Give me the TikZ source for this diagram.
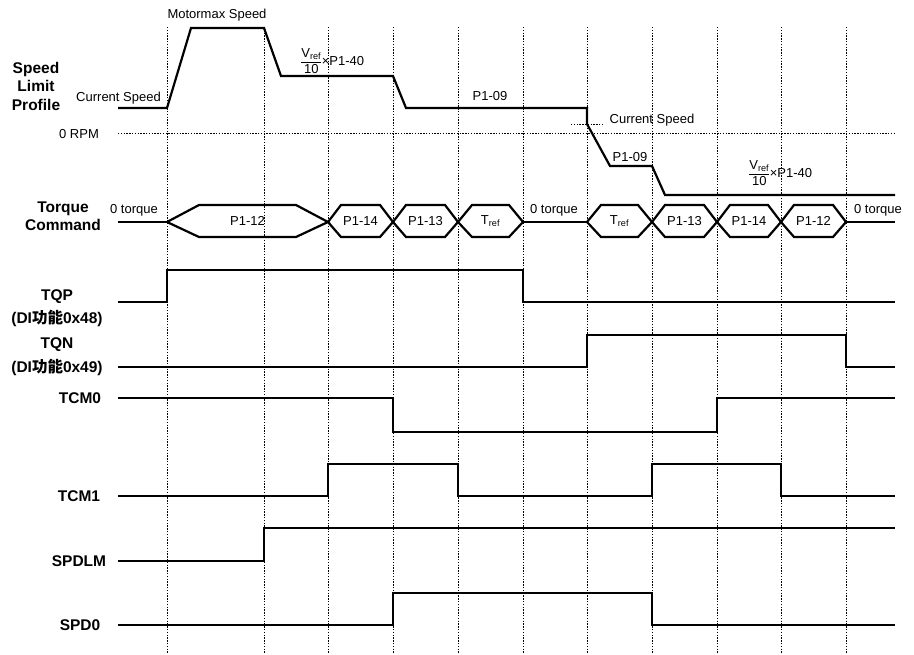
\documentclass[tikz,border=0pt]{standalone}
\usepackage{fontspec}
\setmainfont{Liberation Sans}
\newfontfamily\cjk{Noto Sans CJK SC}
\begin{document}
\begin{tikzpicture}[x=1pt,y=-1pt,
  sig/.style={line width=2.2pt},
  gridline/.style={line width=0.9pt, dash pattern=on 1.4pt off 1.4pt},
  lbl/.style={font=\fontsize{13}{15}\selectfont, inner sep=0pt},
  blbl/.style={font=\fontsize{15.5}{18.5}\selectfont\bfseries, inner sep=0pt, align=center}]
\useasboundingbox (0,0) rectangle (914,655);
\fill[white] (0,0) rectangle (914,655);
% vertical dotted time markers
\foreach \x in {167,264,328,393,458,523,587,652,717,781,846}
  \draw[gridline] (\x,27) -- (\x,653);
% speed limit profile
\draw[gridline] (118,133) -- (895,133);
\draw[gridline] (571,124) -- (602,124);
\draw[sig] (118,108) -- (167,108) -- (191,28) -- (264,28) -- (281,76) -- (393,76)
  -- (406,108) -- (587,108) -- (587,124) -- (610,166) -- (652,166) -- (665,195) -- (895,195);
\node[blbl] (slp) at (36,86) {Speed\\Limit\\Profile};
\node[lbl, anchor=east] (cs1) at (161,98) {Current Speed};
\node[lbl] (mms) at (217,15) {Motormax Speed};
\node[lbl] (rpm) at (79,134) {0 RPM};
\node[lbl, anchor=west] (f1) at (300,61) {$\displaystyle\frac{\mbox{V\textsubscript{ref}}}{\mbox{10}}$\kern-0.5pt×P1-40};
\node[lbl] (p109a) at (490,96) {P1-09};
\node[lbl] (cs2) at (652,120) {Current Speed};
\node[lbl] (p109b) at (630,157) {P1-09};
\node[lbl, anchor=west] (f2) at (748,173) {$\displaystyle\frac{\mbox{V\textsubscript{ref}}}{\mbox{10}}$\kern-0.5pt×P1-40};
% torque command
\node[blbl] (tc) at (63,216) {Torque\\Command};
\draw[sig] (118,222) -- (167,222);
\draw[sig] (523,222) -- (587,222);
\draw[sig] (846,222) -- (895,222);
\node[lbl] (zt1) at (134,210) {0 torque};
\node[lbl] (zt2) at (554,210) {0 torque};
\node[lbl] (zt3) at (878,210) {0 torque};
\foreach \a/\b/\s/\t [count=\i] in {167/328/32/P1-12, 328/393/13/P1-14, 393/458/13/P1-13,
   458/523/14/T\textsubscript{ref}, 587/652/14/T\textsubscript{ref}, 652/717/13/P1-13,
   717/781/13/P1-14, 781/846/13/P1-12} {
  \draw[sig] (\a,222) -- ({\a+\s},205) -- ({\b-\s},205) -- (\b,222) -- ({\b-\s},237) -- ({\a+\s},237) -- cycle;
  \node[lbl] (hex\i) at ({(\a+\b)/2},221) {\t};
}
% digital signals
\node[blbl] (tqp) at (57,297) {TQP};
\node[blbl] (tqpdi) at (57,318) {(DI{\cjk 功能}0x48)};
\draw[sig] (118,302) -- (167,302) -- (167,270) -- (523,270) -- (523,302) -- (895,302);
\node[blbl] (tqn) at (57,345) {TQN};
\node[blbl] (tqndi) at (57,367) {(DI{\cjk 功能}0x49)};
\draw[sig] (118,367) -- (587,367) -- (587,335) -- (846,335) -- (846,367) -- (895,367);
\node[blbl] (tcm0) at (80,398) {TCM0};
\draw[sig] (118,398) -- (393,398) -- (393,432) -- (717,432) -- (717,398) -- (895,398);
\node[blbl] (tcm1) at (79,496) {TCM1};
\draw[sig] (118,496) -- (328,496) -- (328,464) -- (458,464) -- (458,496) -- (652,496)
  -- (652,464) -- (781,464) -- (781,496) -- (895,496);
\node[blbl] (spdlm) at (79,561) {SPDLM};
\draw[sig] (118,561) -- (264,561) -- (264,528) -- (895,528);
\node[blbl] (spd0) at (80,625) {SPD0};
\draw[sig] (118,625) -- (393,625) -- (393,593) -- (652,593) -- (652,625) -- (895,625);
\end{tikzpicture}
\end{document}
